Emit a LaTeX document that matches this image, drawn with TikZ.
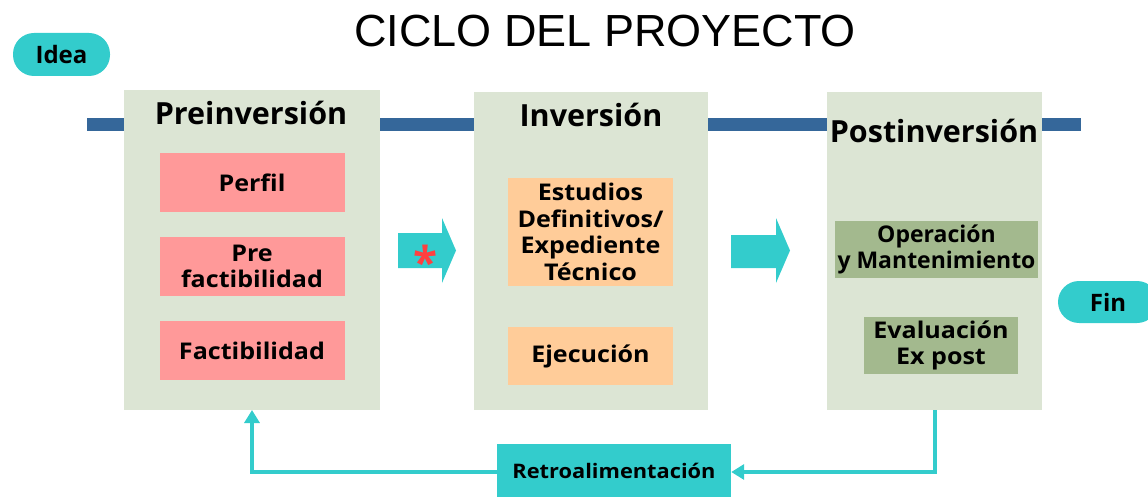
\documentclass[tikz,border=0pt]{standalone}
\usepackage{fontspec}
\setmainfont{Open Sans}
\newfontfamily\titlefont{Liberation Sans}
\newfontfamily\widefont[FakeStretch=1.09]{Open Sans}
\usetikzlibrary{arrows.meta}
\definecolor{teal1}{HTML}{33CCCC}
\definecolor{phase}{HTML}{DCE5D4}
\definecolor{pinkbox}{HTML}{FF9999}
\definecolor{peach}{HTML}{FFCC99}
\definecolor{olive}{HTML}{A3B98E}
\definecolor{bluebar}{HTML}{35679A}
\tikzset{
  phasebox/.style={fill=phase, draw=none, inner sep=0pt, anchor=north west},
  phasetitle/.style={font=\bfseries\fontsize{30.5}{34}\selectfont, inner sep=0pt},
  item/.style={draw=none, inner sep=0pt, align=center,
    font=\widefont\bfseries\fontsize{23}{26.5}\selectfont},
  pill/.style={fill=teal1, rounded corners=21pt, inner sep=0pt,
    font=\bfseries\fontsize{24}{28}\selectfont},
  feed/.style={draw=teal1, line width=3.5pt, -{Triangle[length=13pt,width=15pt]}},
}
\begin{document}
\begin{tikzpicture}[x=1pt,y=-1pt]
\useasboundingbox (0,0) rectangle (1148,497);
% title
\node (title) at (605,31) {\titlefont\fontsize{45}{50}\selectfont CICLO DEL PROYECTO};
% time bar
\coordinate (barL) at (87,124.5);
\coordinate (barR) at (1081,124.5);
\draw[bluebar, line width=13pt] (barL) -- (barR);
% phases
\node[phasebox, minimum width=256pt, minimum height=320pt] (pre) at (124,90) {};
\node[phasebox, minimum width=234pt, minimum height=318pt] (inv) at (474,92) {};
\node[phasebox, minimum width=215pt, minimum height=318pt] (post) at (827,92) {};
\node[phasetitle] (pret) at (251,113) {Preinversión};
\node[phasetitle] (invt) at (591,115) {Inversión};
\node[phasetitle] (postt) at (934,131) {Postinversión};
% Preinversion items
\node[item, fill=pinkbox, minimum width=185pt, minimum height=59pt] (perfil) at (252,182.5) {Perfil};
\node[item, fill=pinkbox, minimum width=185pt, minimum height=59pt] (prefact) at (252,266.5) {Pre\\factibilidad};
\node[item, fill=pinkbox, minimum width=185pt, minimum height=59pt] (fact) at (252,350.5) {Factibilidad};
% Inversion items
\node[item, fill=peach, minimum width=165pt, minimum height=108pt] (est) at (590.5,232) {Estudios\\Definitivos/\\Expediente\\Técnico};
\node[item, fill=peach, minimum width=165pt, minimum height=58pt] (ejec) at (590.5,356) {Ejecución};
% Postinversion items
\node[item, fill=olive, minimum width=203pt, minimum height=57pt,
  font=\bfseries\fontsize{23}{26.5}\selectfont] (oper) at (936.5,249.5) {Operación\\y Mantenimiento};
\node[item, fill=olive, minimum width=154pt, minimum height=57pt] (eval) at (941,345.5) {Evaluación\\Ex post};
% pills
\node[pill, minimum width=97pt, minimum height=43pt] (idea) at (61.5,54.5) {Idea};
\node[pill, minimum width=100pt, minimum height=42pt] (fin) at (1108,302) {Fin};
% block arrows
\fill[teal1] (398,233) -- (442,233) -- (442,218) -- (456,250.5) -- (442,283) -- (442,268) -- (398,268) -- cycle;
\node[text=red!75!white, font=\bfseries\fontsize{44}{44}\selectfont, inner sep=0pt] (ast) at (425,262) {*};
\fill[teal1] (731,235) -- (776,235) -- (776,218) -- (790,250.5) -- (776,283) -- (776,268) -- (731,268) -- cycle;
% feedback
\node[fill=teal1, minimum width=234pt, minimum height=53pt, inner sep=0pt,
  font=\widefont\bfseries\fontsize{20}{24}\selectfont] (retro) at (614,470.5) {Retroalimentación};
\coordinate (postb) at (935,410);
\coordinate (preb) at (252,410);
\draw[feed] (postb) |- (retro.east |- 0,472);
\draw[feed] (retro.west |- 0,472) -| (preb);
\end{tikzpicture}
\end{document}
